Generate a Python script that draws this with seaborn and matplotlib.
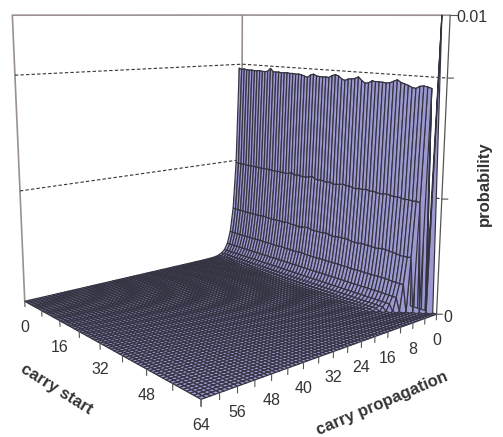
import numpy as np
import matplotlib
matplotlib.use("Agg")
import matplotlib.pyplot as plt
from mpl_toolkits.mplot3d import proj3d
import seaborn as sns

# values (probability in units of 1e-3)
# top row of the wall (carry propagation = 1), one value per carry start 0..61
ridge_row = [7.84, 7.80, 7.82, 7.80, 7.79, 7.80, 7.78, 7.79, 7.80, 7.78, 7.78, 7.80,
             7.92, 7.80, 7.79, 7.80, 7.78, 7.79, 7.80, 7.78, 7.79, 7.77, 7.78, 7.76,
             7.72, 7.68, 7.78, 7.82, 7.76, 7.75, 7.74, 7.75, 7.74, 7.82, 7.86, 7.82,
             7.72, 7.68, 7.74, 7.75, 7.78, 7.84, 7.72, 7.64, 7.66, 7.74, 7.72, 7.72,
             7.72, 7.70, 7.72, 7.78, 7.84, 7.76, 7.72, 7.68, 7.62, 7.60, 7.68, 7.70,
             7.68, 7.64]
# second row (carry propagation = 2), slightly different wiggle
second_row = [3.92, 3.90, 3.90, 3.91, 3.90, 3.89, 3.90, 3.89, 3.90, 3.90, 3.88, 3.90,
              3.89, 3.90, 3.89, 3.88, 3.90, 3.89, 3.90, 3.88, 3.90, 3.96, 3.88, 3.92,
              3.90, 3.89, 3.90, 3.92, 3.98, 3.90, 3.88, 3.90, 3.88, 3.86, 3.90, 3.84,
              3.86, 3.88, 3.92, 3.88, 3.90, 3.86, 3.84, 3.88, 3.86, 3.90, 3.86, 3.88,
              3.86, 3.84, 3.86, 3.88, 3.86, 3.84, 3.86, 3.84, 3.82, 3.84, 3.82, 3.84,
              3.82, 3.82]
# how much of the ridge is left at each further carry propagation, 3..16
row_share = [0.25, 0.125, 0.0625, 0.031, 0.016, 0.008, 0.004, 0.002, 0.001, 0.0005,
             0.0003, 0.0002, 0.0001, 0.00005]
spike_value = 10.0
spike_start = 62

start_ticks = [0, 8, 16, 24, 32, 40, 48, 56, 64]
start_labels = [0, 16, 32, 48, 64]
prop_ticks = list(range(0, 65, 4))
prop_labels = [0, 8, 16, 24, 32, 40, 48, 56]
z_grid = [0.004, 0.008]
z_ticks = [0, 0.004, 0.008, 0.01]

sns.set_theme(style="white")
plt.rcParams["font.family"] = ["Liberation Sans", "DejaVu Sans"]

prop = np.arange(65)
start = np.arange(65)
P, S = np.meshgrid(prop, start, indexing="ij")
Z = np.zeros((65, 65))
n = len(ridge_row)
for s in range(n):
    if s <= 61:
        Z[1, s] = ridge_row[s] / 1000
    if s <= 60:
        Z[2, s] = second_row[s] / 1000
    for i, share in enumerate(row_share):
        p = i + 3
        if s + p <= 62:
            Z[p, s] = ridge_row[s] * share / 1000 * (second_row[(s + i) % n] / 3.88)
Z[0, spike_start] = spike_value / 1000

fig = plt.figure(figsize=(5.03, 4.37), dpi=100)
ax = fig.add_axes([-82 / 503, -37 / 437, 600 / 503, 600 / 437], projection="3d", computed_zorder=False)
ax.set_xlim(0, 64, view_margin=0)
ax.set_ylim(0, 64, view_margin=0)
ax.set_zlim(0, 0.01, view_margin=0)
ax.set_box_aspect((1, 1, 0.985), zoom=0.84)
ax.set_proj_type("persp", focal_length=0.262)
ax.view_init(elev=10.1, azim=50.3)
ax.set_xticks([])
ax.set_yticks([])
ax.set_zticks([])
ax.set_axis_off()

wall = "#9a9090"
ax.plot([64, 64, 0, 0], [0, 0, 0, 64], [0, 0.01, 0.01, 0.01], color=wall, lw=1.2, zorder=1)
ax.plot([0, 0], [0, 0], [0, 0.01], color=wall, lw=1.2, zorder=1)
ax.plot([0, 0], [64, 64], [0, 0.01], color="#555555", lw=0.9, zorder=1)
for g in z_grid:
    ax.plot([64, 0, 0], [0, 0, 64], [g, g, g], color="#333333", lw=0.8, ls=(0, (3, 2)), zorder=1)

ax.plot_surface(P, S, Z, rstride=1, cstride=1, color="#9c98d0", edgecolor="#333340",
                linewidth=0.85, shade=False, zorder=2)

tick_col = "#555555"
tick_len = 0.0002
for s in start_ticks:
    ax.plot([64, 64], [s, s], [0, -tick_len], color=tick_col, lw=0.8, zorder=3)
for p in prop_ticks:
    ax.plot([p, p], [64, 64], [0, -tick_len], color=tick_col, lw=0.8, zorder=3)
for z in z_ticks:
    ax.plot([0, -1.0], [64, 64.8], [z, z], color=tick_col, lw=0.8, zorder=3)


# tick labels go through the 3d projection, then hang a fixed distance under the floor
def floor_label(x, y, text):
    u, v, _ = proj3d.proj_transform(x, y, 0, ax.get_proj())
    ax.annotate(text, xy=(u, v), xycoords="data", xytext=(0, -19), textcoords="offset points",
                ha="center", va="center", fontsize=11.5, color="#333333", annotation_clip=False)


for s in start_labels:
    floor_label(64, s, str(s))
for p in prop_labels:
    floor_label(p, 64, str(p))

fig.text(448 / 503, 1 - 317 / 437, "0", ha="center", va="center", fontsize=11.5, color="#333333")
fig.text(472 / 503, 1 - 17 / 437, "0.01", ha="center", va="center", fontsize=11.5, color="#333333")
fig.text(57 / 503, 1 - 389 / 437, "carry start", rotation=-32, ha="center", va="center",
         fontsize=12, fontweight="bold", color="#333333", rotation_mode="anchor")
fig.text(382 / 503, 1 - 404 / 437, "carry propagation", rotation=23, ha="center", va="center",
         fontsize=12, fontweight="bold", color="#333333", rotation_mode="anchor")
fig.text(484 / 503, 1 - 184 / 437, "probability", rotation=90, ha="center", va="center",
         fontsize=12, fontweight="bold", color="#333333")

fig.savefig("out.png", dpi=100)
